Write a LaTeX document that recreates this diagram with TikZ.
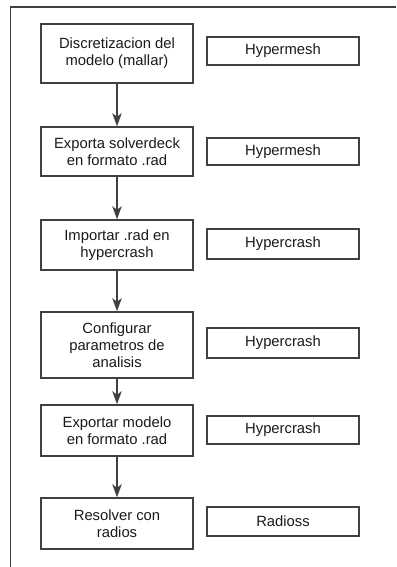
\documentclass[tikz,border=0pt]{standalone}
\usepackage{fontspec}
\setmainfont{Liberation Sans}
\usetikzlibrary{arrows.meta}
\definecolor{ink}{HTML}{404040}
\begin{document}
\begin{tikzpicture}[x=1pt,y=-1pt,
  stepbox/.style={draw=ink,line width=1.6pt,minimum width=152pt,inner sep=0pt,
    align=center,font=\fontsize{14.8}{17}\selectfont,text=black!90},
  toolbox/.style={draw=ink,line width=1.6pt,minimum width=152pt,inner sep=0pt,
    align=center,font=\fontsize{14.8}{17}\selectfont,text=black!90},
  flow/.style={draw=ink,line width=1.3pt,-{Stealth[length=13pt,width=9.5pt,inset=3.5pt]}}]
  \useasboundingbox (0,0) rectangle (396,567);
  % page frame: top and left edges only
  \draw[ink,line width=1.4pt] (396,7) -- (10.5,7) -- (10.5,567);
  % process steps
  \node[stepbox,minimum height=59pt] (s1) at (117,53.5) {Discretizacion del\\modelo (mallar)};
  \node[stepbox,minimum height=49pt] (s2) at (117,151.5) {Exporta solverdeck\\en formato .rad};
  \node[stepbox,minimum height=50pt] (s3) at (117,245) {Importar .rad en\\hypercrash};
  \node[stepbox,minimum height=66pt] (s4) at (117,345) {Configurar\\parametros de\\analisis};
  \node[stepbox,minimum height=51pt] (s5) at (117,430.5) {Exportar modelo\\en formato .rad};
  \node[stepbox,minimum height=51pt] (s6) at (117,523.5) {Resolver con\\radios};
  % software used at each step
  \node[toolbox,minimum height=28pt] (t1) at (283,51) {Hypermesh};
  \node[toolbox,minimum height=27pt] (t2) at (283,151.5) {Hypermesh};
  \node[toolbox,minimum height=30pt] (t3) at (283,244) {Hypercrash};
  \node[toolbox,minimum height=30pt] (t4) at (283,343) {Hypercrash};
  \node[toolbox,minimum height=28pt] (t5) at (283,430) {Hypercrash};
  \node[toolbox,minimum height=29pt] (t6) at (283,521.5) {Radioss};
  % connectors
  \draw[flow] (s1) -- (s2);
  \draw[flow] (s2) -- (s3);
  \draw[flow] (s3) -- (s4);
  \draw[flow] (s4) -- (s5);
  \draw[flow] (s5) -- (s6);
\end{tikzpicture}
\end{document}
